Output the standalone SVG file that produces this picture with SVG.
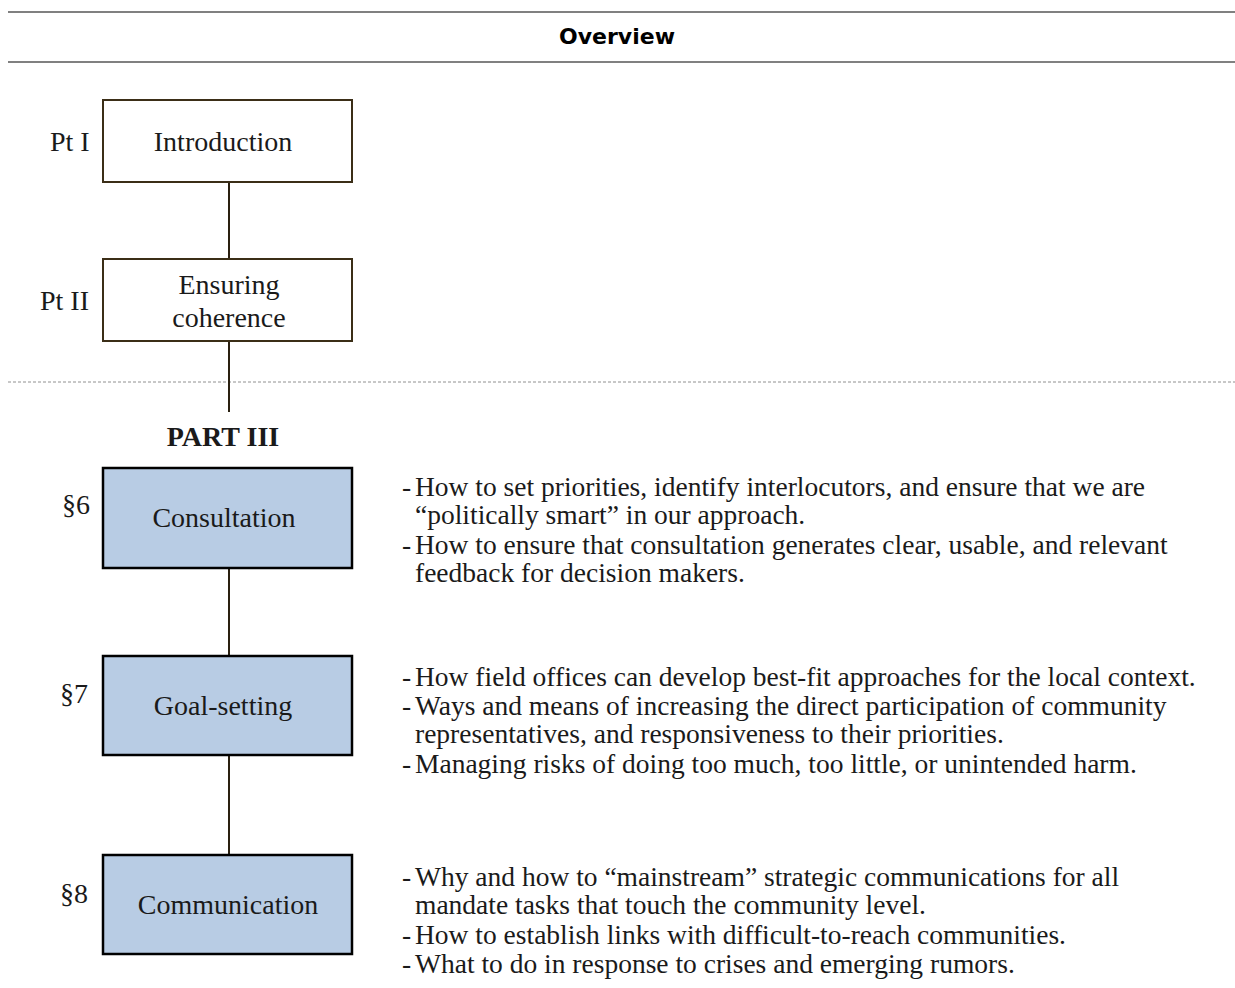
<svg xmlns="http://www.w3.org/2000/svg" width="1235" height="988" viewBox="0 0 1235 988">
  <style>
    .serif { font-family: "Liberation Serif", "DejaVu Serif", serif; fill: #1a1a1a; }
    .lbl { font-size: 28px; }
    .box-plain { fill: #ffffff; stroke: #3b2e17; stroke-width: 2; }
    .box-blue { fill: #b8cce4; stroke: #000000; stroke-width: 2.5; }
    .center { text-anchor: middle; }
    .bullet { font-size: 27.5px; }
    .conn { stroke: #2a2010; stroke-width: 2; fill: none; }
  </style>

  <rect width="1235" height="988" fill="#ffffff"/>

  <!-- header band -->
  <g id="header">
    <line x1="8" y1="12" x2="1235" y2="12" stroke="#808080" stroke-width="2"/>
    <line x1="8" y1="62" x2="1235" y2="62" stroke="#808080" stroke-width="2"/>
    <text x="617" y="44" text-anchor="middle" font-family="'DejaVu Sans', sans-serif" font-weight="bold" font-size="22" fill="#000">Overview</text>
  </g>

  <!-- divider between parts II and III -->
  <line id="divider" x1="8" y1="382" x2="1235" y2="382" stroke="#909090" stroke-width="1" stroke-dasharray="3,2"/>

  <!-- connectors -->
  <g id="connectors">
    <line class="conn" x1="229" y1="182" x2="229" y2="259"/>
    <line class="conn" x1="229" y1="341" x2="229" y2="412"/>
    <line class="conn" x1="229" y1="568" x2="229" y2="656"/>
    <line class="conn" x1="229" y1="755" x2="229" y2="855"/>
  </g>

  <g id="node-intro">
    <rect class="box-plain" x="103" y="100" width="249" height="82"/>
    <text class="serif lbl center" x="223" y="151">Introduction</text>
    <text class="serif lbl" x="50" y="151">Pt I</text>
  </g>

  <g id="node-coherence">
    <rect class="box-plain" x="103" y="259" width="249" height="82"/>
    <text class="serif lbl center" x="229" y="294">Ensuring</text>
    <text class="serif lbl center" x="229" y="327">coherence</text>
    <text class="serif lbl" x="40" y="310">Pt II</text>
  </g>

  <text id="part3" class="serif center" x="223" y="446" font-size="28" font-weight="bold" fill="#000">PART III</text>

  <g id="node-consultation">
    <rect class="box-blue" x="103" y="468" width="249" height="100"/>
    <text class="serif lbl center" x="224" y="527">Consultation</text>
    <text class="serif lbl" x="62" y="514">§6</text>
    <g class="serif bullet">
      <text x="402" y="496">-</text>
      <text x="415" y="496">How to set priorities, identify interlocutors, and ensure that we are</text>
      <text x="415" y="524">“politically smart” in our approach.</text>
      <text x="402" y="554">-</text>
      <text x="415" y="554">How to ensure that consultation generates clear, usable, and relevant</text>
      <text x="415" y="582">feedback for decision makers.</text>
    </g>
  </g>

  <g id="node-goal">
    <rect class="box-blue" x="103" y="656" width="249" height="99"/>
    <text class="serif lbl center" x="223" y="715">Goal-setting</text>
    <text class="serif lbl" x="60" y="703">§7</text>
    <g class="serif bullet">
      <text x="402" y="686">-</text>
      <text x="415" y="686">How field offices can develop best-fit approaches for the local context.</text>
      <text x="402" y="715">-</text>
      <text x="415" y="715">Ways and means of increasing the direct participation of community</text>
      <text x="415" y="743">representatives, and responsiveness to their priorities.</text>
      <text x="402" y="773">-</text>
      <text x="415" y="773">Managing risks of doing too much, too little, or unintended harm.</text>
    </g>
  </g>

  <g id="node-communication">
    <rect class="box-blue" x="103" y="855" width="249" height="99"/>
    <text class="serif lbl center" x="228" y="914">Communication</text>
    <text class="serif lbl" x="60" y="903">§8</text>
    <g class="serif bullet">
      <text x="402" y="886">-</text>
      <text x="415" y="886">Why and how to “mainstream” strategic communications for all</text>
      <text x="415" y="914">mandate tasks that touch the community level.</text>
      <text x="402" y="944">-</text>
      <text x="415" y="944">How to establish links with difficult-to-reach communities.</text>
      <text x="402" y="973">-</text>
      <text x="415" y="973">What to do in response to crises and emerging rumors.</text>
    </g>
  </g>
</svg>
